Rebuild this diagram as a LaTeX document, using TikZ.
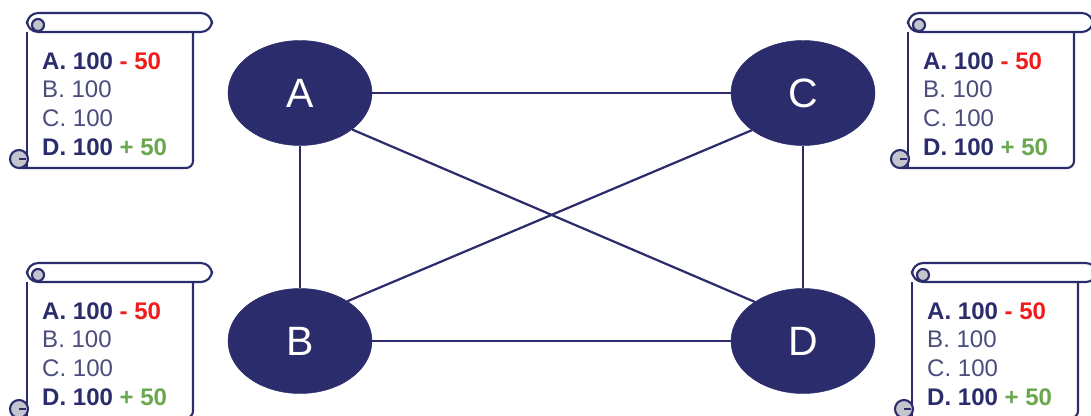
\documentclass[tikz,border=0pt]{standalone}
\usepackage{fontspec}
\setmainfont{Liberation Sans}
\usetikzlibrary{shapes.geometric}
\definecolor{navy}{HTML}{2B2C6C}
\definecolor{soft}{HTML}{4B4D7D}
\definecolor{minusred}{HTML}{F21B1B}
\definecolor{plusgreen}{HTML}{6AA84F}
\definecolor{curl}{HTML}{C4C4CE}
\tikzset{
  nd/.style={ellipse, fill=navy, draw=navy, minimum width=4.32cm, minimum height=3.15cm, inner sep=0pt,
             text=white, font=\fontsize{35}{35}\selectfont},
  edge/.style={draw=navy, line width=1.9pt},
  sc/.style={draw=navy, line width=1.8pt},
  ledger/.style={anchor=west, align=left, inner sep=0pt, font=\fontsize{20.5}{24.6}\selectfont},
}
\newcommand{\ledgertext}{\textbf{\color{navy}A. 100 \color{minusred}- 50}\\
{\color{soft}B. 100}\\
{\color{soft}C. 100}\\
\textbf{\color{navy}D. 100 \color{plusgreen}+ 50}}
\newcommand{\myscroll}[3]{%
  \begin{scope}[shift={(#1,#2)}]
    \draw[sc, fill=white] (0,155) -- (0,19);
    \draw[sc, rounded corners=6] (-7,155) -- (166,155) -- (166,19);
    \draw[sc, fill=white, rounded corners=9.5] (0,0) rectangle (185,19);
    \draw[sc, fill=curl] (11,12) circle (6);
    \draw[sc] (11,18) -- (11,19);
    \draw[sc, fill=curl] (-8,146) circle (9);
    \draw[sc] (-8,146) -- (-1,146);
    \node[ledger] (#3) at (15,91) {\ledgertext};
  \end{scope}}
\begin{document}
\begin{tikzpicture}[x=0.03cm, y=-0.03cm]
\useasboundingbox (0,0) rectangle (1091,415);
\clip (0,0) rectangle (1091,415);
\fill[white] (0,0) rectangle (1091,415);

\node[nd] (A) at (300,93) {A};
\node[nd] (C) at (803,93) {C};
\node[nd] (B) at (300,341) {B};
\node[nd] (D) at (803,341) {D};

\draw[edge] (A) -- (C);
\draw[edge] (A) -- (B);
\draw[edge] (C) -- (D);
\draw[edge] (B) -- (D);
\draw[edge] (A.-35) -- (D.141);
\draw[edge] (B.40) -- (C.-144);

\myscroll{27}{13}{ledgerTL}
\myscroll{908}{13}{ledgerTR}
\myscroll{27}{263}{ledgerBL}
\myscroll{912}{263}{ledgerBR}
\end{tikzpicture}
\end{document}
